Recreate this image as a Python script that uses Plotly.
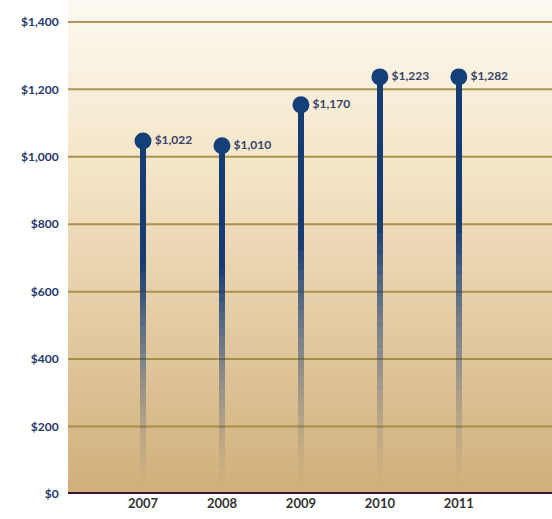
import plotly.graph_objects as go

years = ["2007", "2008", "2009", "2010", "2011"]
heights = [1047, 1033, 1154, 1237, 1237]
labels = ["$1,022", "$1,010", "$1,170", "$1,223", "$1,282"]
tick_vals = [0, 200, 400, 600, 800, 1000, 1200, 1400]
tick_text = ["$0", "$200", "$400", "$600", "$800", "$1,000", "$1,200", "$1,400"]

Y_MAX = 1465
fig = go.Figure()

def lerp(a, b, t):
    return tuple(int(round(a[i] + (b[i] - a[i]) * t)) for i in range(3))

top_c = (253, 250, 242)
mid_c = (244, 228, 198)
bot_c = (208, 175, 122)
N_BG = 120
shapes = []
for k in range(N_BG):
    f0 = k / N_BG
    f1 = (k + 1) / N_BG
    t = 1 - (f0 + f1) / 2
    if t < 0.35:
        c = lerp(top_c, mid_c, t / 0.35)
    else:
        c = lerp(mid_c, bot_c, (t - 0.35) / 0.65)
    shapes.append(dict(type="rect", xref="x domain", yref="y domain",
                       x0=0, x1=1, y0=f0, y1=f1 + 0.002, layer="below",
                       line=dict(width=0), fillcolor="rgb(%d,%d,%d)" % c))

for v in tick_vals[1:]:
    shapes.append(dict(type="line", xref="x domain", yref="y", x0=0, x1=1,
                       y0=v, y1=v, layer="below",
                       line=dict(color="rgba(160,130,60,0.85)", width=2)))
shapes.append(dict(type="line", xref="x domain", yref="y", x0=0, x1=1,
                   y0=0, y1=0, layer="above",
                   line=dict(color="#3b1530", width=4)))

N_SEG = 40
for k in range(N_SEG):
    f = (k + 0.5) / N_SEG
    if f > 0.65:
        a = 1.0
    else:
        a = max(0.0, (f - 0.02) / 0.63) ** 1.3
    fig.add_trace(go.Bar(
        x=years, y=[h / N_SEG for h in heights],
        width=0.075,
        marker=dict(color="rgba(22,60,115,%.3f)" % a, line=dict(width=0)),
        hoverinfo="skip", showlegend=False))

fig.add_trace(go.Scatter(
    x=years, y=heights, mode="markers+text",
    marker=dict(size=17, color="#153f78", line=dict(width=0)),
    text=labels, textposition="middle right",
    textfont=dict(family="Lato", size=12, color="#3a4466", weight="bold"),
    hoverinfo="skip", showlegend=False))

fig.update_layout(
    width=552, height=519,
    margin=dict(l=68, r=0, t=0, b=25),
    paper_bgcolor="white", plot_bgcolor="white",
    barmode="stack", bargap=0,
    shapes=shapes,
    font=dict(family="Lato"),
)
fig.update_xaxes(range=[-0.95, 5.18], showgrid=False, zeroline=False,
                 showline=False, ticks="",
                 tickfont=dict(family="Lato", size=13, color="#333333", weight="bold"))
fig.update_yaxes(range=[0, Y_MAX], tickvals=tick_vals, ticktext=tick_text,
                 showgrid=False, zeroline=False, showline=False,
                 ticks="outside", ticklen=6, tickcolor="rgba(0,0,0,0)",
                 tickfont=dict(family="Lato", size=12, color="#25386a", weight="bold"))

fig.write_html("out.html")
